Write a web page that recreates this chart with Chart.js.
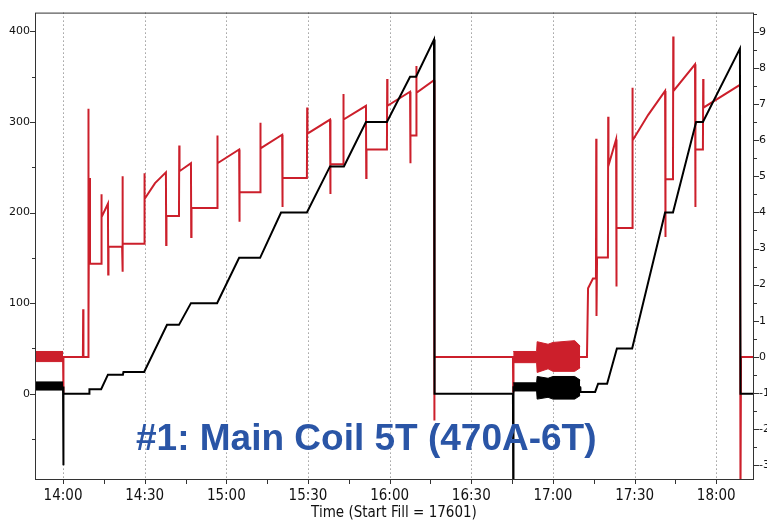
<!DOCTYPE html>
<html>
<head>
<meta charset="utf-8">
<script src="https://cdn.jsdelivr.net/npm/chart.js@4.4.1/dist/chart.umd.min.js"></script>
<style>
  html, body { margin: 0; padding: 0; background: #fff; }
  #wrap { width: 767px; height: 522px; }
</style>
</head>
<body>
<div id="wrap"><canvas id="coilChart" width="767" height="522"></canvas></div>
<script>
// Time is kept as minutes after midnight (840 = 14:00)
const xMin = 829.7;
const xMax = 1093.5;
const xTicks = [840, 855, 870, 885, 900, 915, 930, 945, 960, 975, 990, 1005, 1020, 1035, 1050, 1065, 1080];
const leftTicks = [-50, 0, 50, 100, 150, 200, 250, 300, 350, 400];
const rightTicks = [-3, -2.5, -2, -1.5, -1, -0.5, 0, 0.5, 1, 1.5, 2, 2.5, 3, 3.5, 4, 4.5, 5, 5.5, 6, 6.5, 7, 7.5, 8, 8.5, 9, 9.5];

const titleText = "#1: Main Coil 5T (470A-6T)";
const xTitle = "Time (Start Fill = 17601)";

// Black trace (left axis)
const blackTime = [840.0, 840.1, 840.2, 849.6, 849.7, 854.0, 856.5, 862.0, 862.2, 869.8,
  878.2, 882.6, 887.0, 896.6, 904.7, 912.4, 920.1, 929.6, 938.1, 943.2,
  951.3, 959.0, 967.5, 969.7, 976.3, 976.5, 1005.3, 1005.4, 1005.5, 1030.0,
  1030.1, 1035.5, 1036.6, 1039.9, 1043.5, 1049.1, 1061.2, 1064.1, 1072.6, 1075.1,
  1088.7, 1088.9, 1093.5];
const blackAmps = [8, -79, 0, 0, 5, 5, 21, 21, 24, 24,
  76, 76, 100, 100, 150, 150, 200, 200, 251, 251,
  300, 300, 350, 350, 391, 0, 0, -110, 7, 7,
  2, 2, 11, 11, 50, 50, 200, 200, 300, 300,
  381, 0, 0];

// Noisy stretches of the black trace (upper / lower envelope)
const blackBandTime = [829.7, 840.0, 920, 1005.4, 1014.0, 1014.2, 1018.2, 1020.0, 1028, 1030.0];
const blackBandHi = [13, 13, null, 12, 12, 19, 17, 19, 19, 15];
const blackBandLo = [4, 4, null, 3, 3, -6, -4, -6, -6, -2];

// Red trace (right axis)
const redTime = [840.0, 840.1, 840.2, 847.3, 847.4, 847.5, 849.2, 849.3, 849.4, 849.6,
  849.9, 854.0, 854.1, 854.2, 856.5, 856.6, 856.7, 861.7, 861.8, 861.9,
  862.0, 869.8, 869.9, 870.0, 873.8, 877.8, 877.9, 878.0, 882.6, 882.7,
  882.8, 887.0, 887.1, 887.2, 896.6, 896.7, 896.8, 904.7, 904.8, 904.9,
  912.4, 912.5, 912.6, 920.5, 920.6, 920.7, 929.6, 929.7, 929.8, 938.1,
  938.2, 938.3, 942.9, 943.0, 943.1, 951.3, 951.4, 951.5, 959.0, 959.1,
  959.2, 967.5, 967.6, 967.7, 969.7, 969.8, 969.9, 976.3, 976.4, 976.5,
  1005.3, 1005.4, 1005.5, 1032.5, 1032.9, 1034.7, 1035.8, 1035.9, 1036.0, 1036.2,
  1040.2, 1040.3, 1040.4, 1043.2, 1043.3, 1043.4, 1049.1, 1049.2, 1049.3, 1055.0,
  1061.2, 1061.3, 1061.4, 1064.1, 1064.2, 1064.3, 1072.2, 1072.3, 1072.4, 1075.1,
  1075.2, 1075.3, 1088.7, 1088.9, 1089.1, 1093.5];
const redVolts = [0, -1.0, 0, 0, 1.32, 0, 0, 6.87, 0.93, 4.95,
  2.58, 2.58, 4.5, 3.87, 4.24, 2.28, 3.05, 3.05, 5.0, 2.36,
  3.13, 3.13, 5.08, 4.37, 4.81, 5.11, 3.1, 3.9, 3.9, 5.85,
  5.14, 5.36, 3.32, 4.12, 4.12, 6.13, 5.36, 5.74, 3.74, 4.56,
  4.56, 6.48, 5.77, 6.15, 4.15, 4.95, 4.95, 6.9, 6.18, 6.57,
  4.51, 5.33, 5.33, 7.28, 6.57, 6.95, 4.95, 5.74, 5.74, 7.69,
  6.95, 7.34, 5.36, 6.13, 6.13, 8.05, 7.31, 7.66, -1.76, 0,
  0, -0.96, 0, 0, 1.9, 2.17, 2.17, 6.04, 1.13, 2.75,
  2.75, 6.65, 5.3, 6.02, 1.95, 3.57, 3.57, 7.45, 5.99, 6.7,
  7.36, 3.32, 4.92, 4.92, 8.87, 7.36, 8.1, 4.15, 5.74, 5.74,
  7.69, 6.9, 7.53, -4, 0, 0];

// Noisy stretches of the red trace
const redBandTime = [829.7, 840.0, 920, 1005.4, 1014.0, 1014.2, 1018.2, 1020.0, 1028, 1030.0];
const redBandHi = [0.15, 0.15, null, 0.15, 0.15, 0.42, 0.35, 0.4, 0.45, 0.3];
const redBandLo = [-0.13, -0.13, null, -0.16, -0.16, -0.43, -0.33, -0.4, -0.4, -0.3];

const BLACK = "#000000";
const RED = "#cc1f2b";
const BLUE = "#2a55a6";

function pts(xs, ys) {
  return xs.map((x, i) => ({ x: x, y: ys[i] }));
}

function hhmm(v) {
  const h = Math.floor(v / 60);
  const m = Math.round(v % 60);
  return h + ":" + (m < 10 ? "0" : "") + m;
}

// frame, dotted time grid, tick marks and the big caption
const decorPlugin = {
  id: "decor",
  beforeDatasetsDraw(chart) {
    const { ctx, chartArea: a, scales } = chart;
    ctx.save();
    ctx.strokeStyle = "#6e6e6e";
    ctx.lineWidth = 1;
    ctx.setLineDash([1, 3]);
    ctx.beginPath();
    xTicks.forEach(v => {
      if (v % 30 !== 0) return;
      const px = Math.round(scales.x.getPixelForValue(v)) + 0.5;
      ctx.moveTo(px, a.top);
      ctx.lineTo(px, a.bottom);
    });
    ctx.stroke();
    ctx.restore();
  },
  afterDatasetsDraw(chart) {
    const { ctx, chartArea: a } = chart;
    ctx.save();
    ctx.font = 'bold 37px "Liberation Sans", Arial, sans-serif';
    ctx.fillStyle = BLUE;
    ctx.textBaseline = "alphabetic";
    ctx.fillText(titleText, a.left + 101, a.bottom - 29);
    ctx.restore();
  },
  afterDraw(chart) {
    const { ctx, chartArea: a, scales } = chart;
    ctx.save();
    ctx.strokeStyle = "#333";
    ctx.lineWidth = 1;
    ctx.strokeRect(a.left + 0.5, a.top + 0.5, a.right - a.left, a.bottom - a.top);
    ctx.beginPath();
    xTicks.forEach(v => {
      const px = Math.round(scales.x.getPixelForValue(v)) + 0.5;
      ctx.moveTo(px, a.bottom);
      ctx.lineTo(px, a.bottom + 5);
    });
    leftTicks.forEach(v => {
      const py = Math.round(scales.yL.getPixelForValue(v)) + 0.5;
      const len = v % 100 === 0 ? 5 : 3;
      ctx.moveTo(a.left - len, py);
      ctx.lineTo(a.left, py);
    });
    rightTicks.forEach(v => {
      const py = Math.round(scales.yR.getPixelForValue(v)) + 0.5;
      const len = Number.isInteger(v) ? 5 : 3;
      ctx.moveTo(a.right + 1, py);
      ctx.lineTo(a.right + 1 + len, py);
    });
    ctx.stroke();
    ctx.restore();
  }
};

const tickFont = { family: '"DejaVu Sans", sans-serif', size: 11 };
const narrowFont = { family: '"Liberation Sans Narrow", "DejaVu Sans Condensed", sans-serif', size: 15 };

const coilChart = new Chart(document.getElementById("coilChart"), {
  type: "line",
  data: {
    datasets: [
      {
        label: "black",
        data: pts(blackTime, blackAmps),
        yAxisID: "yL",
        borderColor: BLACK,
        borderWidth: 2,
        pointRadius: 0,
        tension: 0
      },
      {
        label: "black noise hi",
        data: pts(blackBandTime, blackBandHi),
        yAxisID: "yL",
        borderColor: BLACK,
        borderWidth: 1,
        pointRadius: 0,
        fill: false
      },
      {
        label: "black noise lo",
        data: pts(blackBandTime, blackBandLo),
        yAxisID: "yL",
        borderColor: BLACK,
        backgroundColor: BLACK,
        borderWidth: 1,
        pointRadius: 0,
        fill: "-1"
      },
      {
        label: "red",
        data: pts(redTime, redVolts),
        yAxisID: "yR",
        borderColor: RED,
        borderWidth: 2,
        pointRadius: 0,
        tension: 0
      },
      {
        label: "red noise hi",
        data: pts(redBandTime, redBandHi),
        yAxisID: "yR",
        borderColor: RED,
        borderWidth: 1,
        pointRadius: 0,
        fill: false
      },
      {
        label: "red noise lo",
        data: pts(redBandTime, redBandLo),
        yAxisID: "yR",
        borderColor: RED,
        backgroundColor: RED,
        borderWidth: 1,
        pointRadius: 0,
        fill: "-1"
      }
    ]
  },
  options: {
    responsive: false,
    animation: false,
    layout: { padding: { top: 9, left: 0, right: 0, bottom: 0 } },
    plugins: {
      legend: { display: false },
      tooltip: { enabled: false },
      title: { display: false }
    },
    scales: {
      x: {
        type: "linear",
        min: xMin,
        max: xMax,
        afterBuildTicks: s => { s.ticks = xTicks.map(v => ({ value: v })); },
        afterFit: s => { s.height = 43; },
        grid: { display: false, drawTicks: false },
        border: { display: false },
        ticks: {
          autoSkip: false,
          maxRotation: 0,
          padding: 8,
          color: "#111",
          font: narrowFont,
          callback: v => (v % 30 === 0 ? hhmm(v) : "")
        },
        title: {
          display: true,
          text: xTitle,
          color: "#111",
          font: narrowFont,
          padding: { top: 0, bottom: 0 }
        }
      },
      yL: {
        position: "left",
        min: -94.2,
        max: 420.8,
        afterBuildTicks: s => { s.ticks = leftTicks.map(v => ({ value: v })); },
        afterFit: s => { s.width = 35; },
        grid: { display: false, drawTicks: false },
        border: { display: false },
        ticks: {
          autoSkip: false,
          padding: 5,
          color: "#111",
          font: tickFont,
          callback: v => (v % 100 === 0 ? String(v) : "")
        }
      },
      yR: {
        position: "right",
        min: -3.38,
        max: 9.53,
        afterBuildTicks: s => { s.ticks = rightTicks.map(v => ({ value: v })); },
        afterFit: s => { s.width = 14; },
        grid: { display: false, drawTicks: false },
        border: { display: false },
        ticks: {
          autoSkip: false,
          padding: 6,
          color: "#111",
          font: tickFont,
          callback: v => (Number.isInteger(v) ? String(v) : "")
        }
      }
    }
  },
  plugins: [decorPlugin]
});
</script>
</body>
</html>
